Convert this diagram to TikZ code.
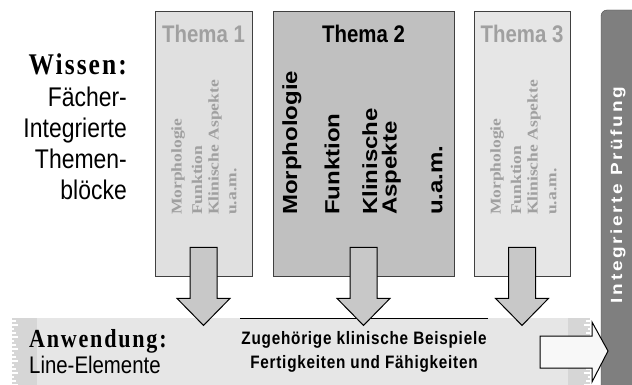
\documentclass[tikz,border=0pt]{standalone}
\usepackage{fontspec}
\setmainfont{Liberation Serif}
\setsansfont{Liberation Sans}
\newfontfamily\wideserif[LetterSpace=8]{Liberation Serif}
\newfontfamily\widesans[LetterSpace=14]{Liberation Sans}
\newfontfamily\slightsans[LetterSpace=5]{Liberation Sans}
\usetikzlibrary{positioning}

\definecolor{themelight}{HTML}{E0E0E0}
\definecolor{themepale}{HTML}{E6E6E6}
\definecolor{themedark}{HTML}{C0C0C0}
\definecolor{fadegray}{HTML}{A0A0A0}
\definecolor{arrowgray}{HTML}{C8C8C8}
\definecolor{bandgray}{HTML}{E6E6E6}
\definecolor{stripgray}{HTML}{D6D6D6}
\definecolor{bargray}{HTML}{7F7F7F}
\definecolor{arrowwhite}{HTML}{F8F8F8}

\tikzset{
  themebox/.style={draw=black!75, line width=0.8pt, minimum height=265pt, inner sep=0pt},
  themetitle/.style={font=\sffamily\bfseries\fontsize{24}{26}\selectfont, xscale=0.85, inner sep=0pt},
  fadelist/.style={font=\bfseries\fontsize{17.5}{19}\selectfont, text=fadegray, xscale=0.85, rotate=90, anchor=west, inner sep=0pt},
  boldlist/.style={font=\sffamily\bfseries\fontsize{24}{23}\selectfont, xscale=0.85, rotate=90, anchor=west, inner sep=0pt, align=left},
  arrowblock/.style={draw=black, line width=1pt, fill=arrowgray, line join=miter},
}

% block arrow below a theme box
\newcommand\downblock[1]{%
  \draw[arrowblock] (#1.south) ++(-13.5,-29) -- ++(27,0) -- ++(0,51) -- ++(13,0)
    -- ++(-26.5,27) -- ++(-26.5,-27) -- ++(13,0) -- cycle;}

\begin{document}
\begin{tikzpicture}[x=1pt,y=-1pt]
\useasboundingbox (0,0) rectangle (632,385);

% left labels
\node[font=\wideserif\bfseries\fontsize{30}{32}\selectfont, xscale=0.85, anchor=base east, inner sep=0pt] (wissen) at (127,75) {Wissen:};
\node[font=\sffamily\fontsize{27}{31}\selectfont, xscale=0.85, anchor=north east, align=right, inner sep=0pt] (faecher) at (127,87) {Fächer-\\Integrierte\\Themen-\\blöcke};

% theme boxes
\node[themebox, fill=themelight, minimum width=97pt] (t1) at (203.5,143.5) {};
\node[themebox, fill=themedark, minimum width=181pt] (t2) at (363.5,143.5) {};
\node[themebox, fill=themepale, minimum width=96pt] (t3) at (522,143.5) {};

\node[themetitle, text=fadegray, below=14pt of t1.north] (t1head) {Thema 1};
\node[themetitle, below=14pt of t2.north] (t2head) {Thema 2};
\node[themetitle, text=fadegray, below=14pt of t3.north] (t3head) {Thema 3};

\node[fadelist] (t1m) at (178,215) {Morphologie};
\node[fadelist] (t1f) at (197,215) {Funktion};
\node[fadelist] (t1k) at (215,215) {Klinische Aspekte};
\node[fadelist] (t1u) at (233,215) {u.a.m.};

\node[boldlist] (t2m) at (292,215) {Morphologie};
\node[boldlist] (t2f) at (332,215) {Funktion};
\node[boldlist] (t2k) at (381.5,215) {Klinische\\Aspekte};
\node[boldlist] (t2u) at (437,215) {u.a.m.};

\node[fadelist] (t3m) at (497,215) {Morphologie};
\node[fadelist] (t3f) at (516,215) {Funktion};
\node[fadelist] (t3k) at (534,215) {Klinische Aspekte};
\node[fadelist] (t3u) at (553,215) {u.a.m.};

% application band
\fill[bandgray] (12,318) rectangle (590,385);
\fill[stripgray] (12,318) rectangle (37,385);
\fill[stripgray] (568,318) rectangle (590,385);
\foreach \y [count=\i] in {321,325,...,385} {
  \draw[white, line width=1.2pt] (10,\y) -- ++({4+mod(\i,3)*2},0);
  \draw[white, line width=1.2pt] (591,\y) -- ++({-3-mod(\i,3)*2},0);
}
\draw[line width=0.8pt] (240,318) -- (488,318);

\node[font=\wideserif\bfseries\fontsize{26}{28}\selectfont, xscale=0.85, anchor=base west, inner sep=0pt] (anwendung) at (29,347) {Anwendung:};
\node[font=\sffamily\fontsize{24}{26}\selectfont, xscale=0.85, anchor=base west, inner sep=0pt] (line) at (29,373) {Line-Elemente};
\node[font=\slightsans\bfseries\fontsize{18}{24}\selectfont, xscale=0.85, align=center, inner sep=0pt] (skills) at (364,352) {Zugehörige klinische Beispiele\\Fertigkeiten und Fähigkeiten};

\downblock{t1}
\downblock{t2}
\downblock{t3}

% exam bar
\fill[bargray, rounded corners=6pt] (601,395) rectangle (645,10);
\draw[black!70, rounded corners=6pt] (601,395) -- (601,10) -- (645,10);
\node[font=\widesans\bfseries\fontsize{19}{21}\selectfont, text=white, xscale=0.85, rotate=90, inner sep=0pt] (exam) at (618,195) {Integrierte Prüfung};

\draw[fill=arrowwhite, line width=1pt, line join=miter] (540,336) -- (592,336) -- (592,322) -- (608,351) -- (592,382) -- (592,368) -- (540,368) -- cycle;
\end{tikzpicture}
\end{document}
